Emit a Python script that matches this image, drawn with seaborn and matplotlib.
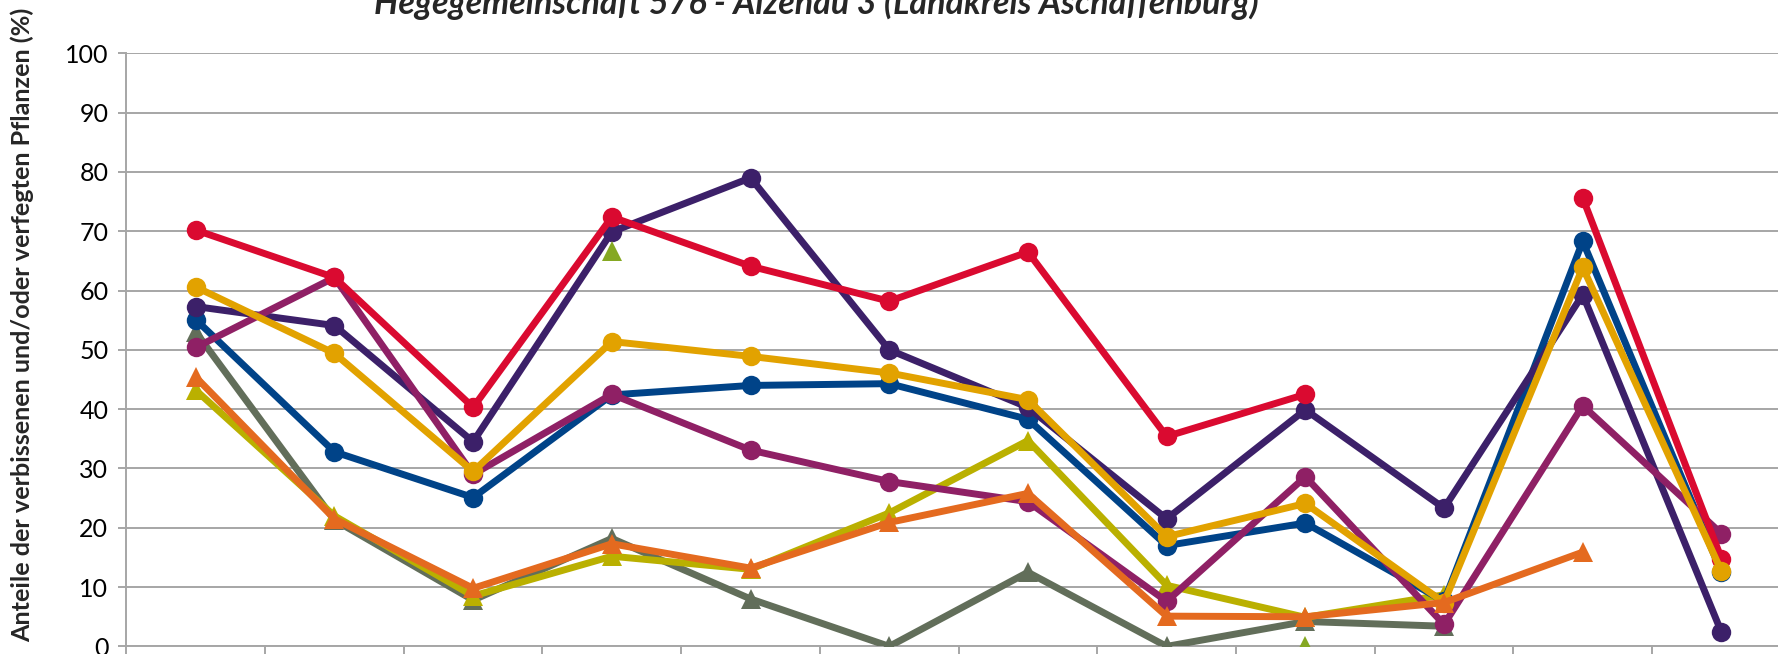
import numpy as np
import pandas as pd
import seaborn as sns
import matplotlib.pyplot as plt

nan = np.nan

# 12 Aufnahmeflächen / Kategorien (Beschriftung liegt außerhalb des Ausschnitts)
cats = list(range(1, 13))

rot = [70.2, 62.2, 40.3, 72.4, 64.1, 58.2, 66.5, 35.4, 42.5, nan, 75.6, 14.8]
dunkellila = [57.3, 54.1, 34.5, 69.9, 79.0, 50.0, 40.3, 21.5, 39.9, 23.3, 59.3, 2.4]
blau = [55.1, 32.8, 25.1, 42.4, 44.0, 44.3, 38.3, 17.0, 20.8, 7.6, 68.3, 12.5]
gold = [60.6, 49.4, 29.5, 51.4, 48.9, 46.1, 41.6, 18.5, 24.1, 7.4, 63.9, 12.7]
magenta = [50.4, 62.2, 29.0, 42.5, 33.1, 27.8, 24.4, 7.6, 28.6, 3.7, 40.6, 19.0]
grau = [53.0, 21.3, 7.8, 18.2, 8.0, 0.0, 12.5, 0.0, 4.2, 3.4, nan, nan]
oliv = [43.2, 22.0, 8.5, 15.2, 13.0, 22.5, 34.7, 10.3, 4.9, 8.7, nan, nan]
orange = [45.4, 21.5, 9.8, 17.3, 13.2, 20.9, 25.8, 5.1, 5.0, 7.4, 15.9, nan]
gruen = [nan, nan, nan, 66.6, nan, nan, nan, nan, 0.0, nan, nan, nan]

titel = "Hegegemeinschaft 576 - Alzenau 3 (Landkreis Aschaffenburg)"
ylabel = "Anteile der verbissenen und/oder verfegten Pflanzen (%)"

# (werte, farbe, marker) - Reihenfolge = Zeichenreihenfolge
serien = [
    (grau, "#626E5A", "^"),
    (oliv, "#BAB000", "^"),
    (blau, "#004388", "o"),
    (dunkellila, "#3C2069", "o"),
    (magenta, "#8F2065", "o"),
    (rot, "#DA0A30", "o"),
    (gold, "#E2A200", "o"),
    (orange, "#E46A1F", "^"),
    (gruen, "#85A822", "^"),
]

sns.set_theme(style="white")
plt.rcParams['font.family'] = ['Lato', 'DejaVu Sans']

W, H = 1778, 654
fig = plt.figure(figsize=(W / 100, H / 100), dpi=100)
x0, x1 = 126.4, 1790.8
y0, y100 = 646.4, 53.3
ax = fig.add_axes([x0 / W, 1 - y0 / H, (x1 - x0) / W, (y0 - y100) / H])


def laeufe(werte):
    # zusammenhaengende Abschnitte ohne Luecken
    out, cur = [], []
    for c, v in zip(cats, werte):
        if np.isnan(v):
            if cur:
                out.append(cur)
            cur = []
        else:
            cur.append((c, v))
    if cur:
        out.append(cur)
    return out


for z, (werte, farbe, mk) in enumerate(serien):
    ms = 14 if mk == "o" else 15
    for lauf in laeufe(werte):
        df = pd.DataFrame(lauf, columns=["x", "y"])
        sns.lineplot(data=df, x="x", y="y", ax=ax, color=farbe, lw=5.0,
                     marker=mk, markersize=ms, markeredgewidth=0,
                     estimator=None, sort=False, legend=False, zorder=3 + z)

ax.set_xlim(0.5, 12.5)
ax.set_ylim(0, 100)
ax.set_yticks(np.arange(0, 101, 10))
ax.set_xticks(np.arange(0.5, 13, 1))
ax.set_xticklabels([])
ax.set_xlabel("")
ax.set_ylabel("")
ax.yaxis.grid(True, color="#A6A6A6", lw=1.4)
ax.xaxis.grid(False)
ax.set_axisbelow(True)
for s in ["top", "right"]:
    ax.spines[s].set_visible(False)
for s in ["left", "bottom"]:
    ax.spines[s].set_color("#A6A6A6")
    ax.spines[s].set_linewidth(1.4)
ax.tick_params(axis="y", length=6, width=1.4, color="#A6A6A6", pad=7,
               labelsize=18, labelcolor="black", left=True)
ax.tick_params(axis="x", length=8, width=1.4, color="#A6A6A6", bottom=True)

t = fig.text(816.5 / W, 1 - 14 / H, titel, ha="center", va="baseline",
             fontsize=20, fontweight="bold", fontstyle="italic")
yl = fig.text(22.7 / W, 1 - 325 / H, ylabel, ha="center", va="center",
              rotation=90, fontsize=14, fontweight="bold")

fig.canvas.draw()
r = fig.canvas.get_renderer()
t.set_fontsize(20 * 885 / t.get_window_extent(r).width)
yl.set_fontsize(14 * 640 / yl.get_window_extent(r).height)

fig.savefig("out.png", dpi=100)
